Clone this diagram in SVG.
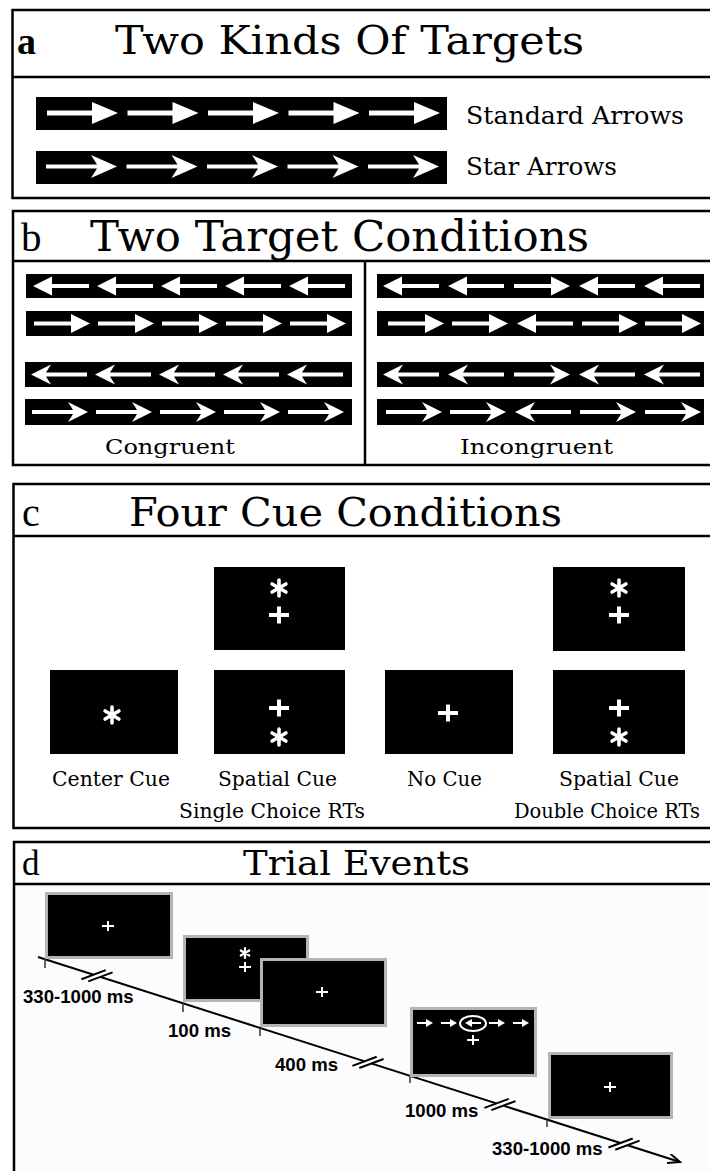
<svg xmlns="http://www.w3.org/2000/svg" xmlns:xlink="http://www.w3.org/1999/xlink" width="710" height="1171" viewBox="0 0 710 1171">
<style>
.panel{fill:none;stroke:#000;stroke-width:2.5}
.hdr{stroke:#000;stroke-width:2.5}
.bar{fill:#000}
.wa{fill:#fff}
.lt{font-family:"Liberation Serif",serif;fill:#000}
.tt{font-family:"DejaVu Serif",serif;fill:#000}
.lb{font-family:"DejaVu Serif",serif;fill:#000}
.ms{font-family:"Liberation Sans",Arial,sans-serif;font-weight:bold;font-size:18.6px;fill:#000}
.scr{fill:#000;stroke:#b4b4b4;stroke-width:3}
.cue{fill:#000}
.ast{stroke:#fff;stroke-linecap:round;fill:none}
.tl{stroke:#000;stroke-width:2;fill:none}
.tick{stroke:#333;stroke-width:1.5}
</style>
<defs>
<path id="aS" class="wa" d="M0,-2.5 H45 V-11 L71,0 L45,11 V2.5 H0 Z"/>
<path id="aT" class="wa" d="M0,-2 H51 L45,-11.5 L71,0 L45,11.5 L51,2 H0 Z"/>
<path id="bS" class="wa" d="M0,-2 H37 V-9.5 L56,0 L37,9.5 V2 H0 Z"/>
<path id="bT" class="wa" d="M0,-2 H41 L36,-10 L56,0 L36,10 L41,2 H0 Z"/>
<path id="sA" class="wa" d="M0,-1 H9 V-4 L16,0 L9,4 V1 H0 Z"/>
<path id="plusL" class="wa" d="M-10,-2 H10 V2 H-10Z M-2,-8.5 H2 V8.5 H-2Z"/>
<path id="plusS" class="wa" d="M-6,-1 H6 V1 H-6Z M-1,-5 H1 V5 H-1Z"/>
<g id="astL" class="ast" stroke-width="3.6"><path d="M0,-8 V8 M-6.9,-4 L6.9,4 M-6.9,4 L6.9,-4"/></g>
<g id="astS" class="ast" stroke-width="2.2"><path d="M0,-5 V5 M-4.3,-2.5 L4.3,2.5 M-4.3,2.5 L4.3,-2.5"/></g>
<marker id="ah" markerUnits="userSpaceOnUse" markerWidth="14" markerHeight="12" refX="12" refY="5" orient="auto"><path d="M0,0 L12,5 L0,10" fill="none" stroke="#000" stroke-width="2"/></marker>
<g id="brk"><rect x="-3.8" y="-2.2" width="7.6" height="4.4" fill="#fcfbfd"/><path d="M-13.8,8 L6.6,-8 M-6.6,8 L13.8,-8" stroke="#000" stroke-width="2" fill="none"/></g>
</defs>
<rect x="0" y="0" width="710" height="1171" fill="#fff"/>

<g id="panel-a">
<rect class="panel" x="12.5" y="10" width="710" height="188"/>
<line class="hdr" x1="12.5" y1="77" x2="710" y2="77"/>
<text class="lt" x="17" y="54" font-size="38" font-weight="bold">a</text>
<text class="tt" x="115" y="54" font-size="40" textLength="469" lengthAdjust="spacingAndGlyphs">Two Kinds Of Targets</text>
<g id="a-standard">
<rect class="bar" x="36" y="97" width="411" height="33"/>
<use xlink:href="#aS" href="#aS" x="47" y="113"/>
<use xlink:href="#aS" href="#aS" x="127.5" y="113"/>
<use xlink:href="#aS" href="#aS" x="208" y="113"/>
<use xlink:href="#aS" href="#aS" x="288.5" y="113"/>
<use xlink:href="#aS" href="#aS" x="369" y="113"/>
<text class="lb" x="466" y="124" font-size="25" textLength="218" lengthAdjust="spacingAndGlyphs">Standard Arrows</text>
</g>
<g id="a-star">
<rect class="bar" x="36" y="151" width="411" height="33"/>
<use xlink:href="#aT" href="#aT" x="46" y="166.5"/>
<use xlink:href="#aT" href="#aT" x="126.5" y="166.5"/>
<use xlink:href="#aT" href="#aT" x="207" y="166.5"/>
<use xlink:href="#aT" href="#aT" x="287.5" y="166.5"/>
<use xlink:href="#aT" href="#aT" x="368" y="166.5"/>
<text class="lb" x="466" y="175" font-size="25" textLength="151" lengthAdjust="spacingAndGlyphs">Star Arrows</text>
</g>
</g>

<g id="panel-b">
<rect class="panel" x="13" y="211" width="710" height="254"/>
<line class="hdr" x1="13" y1="261" x2="710" y2="261"/>
<line class="hdr" x1="365" y1="261" x2="365" y2="465"/>
<text class="lt" x="21" y="251" font-size="41">b</text>
<text class="tt" x="90" y="251" font-size="42" textLength="499" lengthAdjust="spacingAndGlyphs">Two Target Conditions</text>
<g id="congruent">
<rect class="bar" x="26" y="274" width="326" height="24"/>
<rect class="bar" x="26" y="311" width="326" height="25"/>
<rect class="bar" x="25" y="362" width="327" height="25"/>
<rect class="bar" x="25" y="399" width="327" height="26"/>
<use xlink:href="#bS" href="#bS" transform="translate(89,286) scale(-1,1)"/>
<use xlink:href="#bS" href="#bS" transform="translate(153,286) scale(-1,1)"/>
<use xlink:href="#bS" href="#bS" transform="translate(217,286) scale(-1,1)"/>
<use xlink:href="#bS" href="#bS" transform="translate(281,286) scale(-1,1)"/>
<use xlink:href="#bS" href="#bS" transform="translate(345,286) scale(-1,1)"/>
<use xlink:href="#bS" href="#bS" x="34" y="323.5"/>
<use xlink:href="#bS" href="#bS" x="98" y="323.5"/>
<use xlink:href="#bS" href="#bS" x="162" y="323.5"/>
<use xlink:href="#bS" href="#bS" x="226" y="323.5"/>
<use xlink:href="#bS" href="#bS" x="290" y="323.5"/>
<use xlink:href="#bT" href="#bT" transform="translate(87,374.5) scale(-1,1)"/>
<use xlink:href="#bT" href="#bT" transform="translate(151,374.5) scale(-1,1)"/>
<use xlink:href="#bT" href="#bT" transform="translate(215,374.5) scale(-1,1)"/>
<use xlink:href="#bT" href="#bT" transform="translate(279,374.5) scale(-1,1)"/>
<use xlink:href="#bT" href="#bT" transform="translate(343,374.5) scale(-1,1)"/>
<use xlink:href="#bT" href="#bT" x="32" y="412"/>
<use xlink:href="#bT" href="#bT" x="96" y="412"/>
<use xlink:href="#bT" href="#bT" x="160" y="412"/>
<use xlink:href="#bT" href="#bT" x="224" y="412"/>
<use xlink:href="#bT" href="#bT" x="288" y="412"/>
<text class="lb" x="105" y="454" font-size="21" textLength="130" lengthAdjust="spacingAndGlyphs">Congruent</text>
</g>
<g id="incongruent">
<rect class="bar" x="377" y="274" width="327" height="24"/>
<rect class="bar" x="377" y="311" width="327" height="25"/>
<rect class="bar" x="377" y="362" width="327" height="25"/>
<rect class="bar" x="377" y="399" width="327" height="26"/>
<use xlink:href="#bS" href="#bS" transform="translate(439,286) scale(-1,1)"/>
<use xlink:href="#bS" href="#bS" transform="translate(504,286) scale(-1,1)"/>
<use xlink:href="#bS" href="#bS" x="514" y="286"/>
<use xlink:href="#bS" href="#bS" transform="translate(635,286) scale(-1,1)"/>
<use xlink:href="#bS" href="#bS" transform="translate(700,286) scale(-1,1)"/>
<use xlink:href="#bS" href="#bS" x="388" y="323.5"/>
<use xlink:href="#bS" href="#bS" x="452" y="323.5"/>
<use xlink:href="#bS" href="#bS" transform="translate(573,323.5) scale(-1,1)"/>
<use xlink:href="#bS" href="#bS" x="582" y="323.5"/>
<use xlink:href="#bS" href="#bS" x="645" y="323.5"/>
<use xlink:href="#bT" href="#bT" transform="translate(439,374.5) scale(-1,1)"/>
<use xlink:href="#bT" href="#bT" transform="translate(504,374.5) scale(-1,1)"/>
<use xlink:href="#bT" href="#bT" x="514" y="374.5"/>
<use xlink:href="#bT" href="#bT" transform="translate(635,374.5) scale(-1,1)"/>
<use xlink:href="#bT" href="#bT" transform="translate(700,374.5) scale(-1,1)"/>
<use xlink:href="#bT" href="#bT" x="386" y="412"/>
<use xlink:href="#bT" href="#bT" x="450" y="412"/>
<use xlink:href="#bT" href="#bT" transform="translate(571,412) scale(-1,1)"/>
<use xlink:href="#bT" href="#bT" x="580" y="412"/>
<use xlink:href="#bT" href="#bT" x="645" y="412"/>
<text class="lb" x="460" y="454" font-size="21" textLength="153" lengthAdjust="spacingAndGlyphs">Incongruent</text>
</g>
</g>

<g id="panel-c">
<rect class="panel" x="13.5" y="484" width="710" height="344"/>
<line class="hdr" x1="13.5" y1="536" x2="710" y2="536"/>
<text class="lt" x="22" y="526" font-size="40">c</text>
<text class="tt" x="129" y="526" font-size="39" textLength="433" lengthAdjust="spacingAndGlyphs">Four Cue Conditions</text>
<g id="center-cue">
<rect class="cue" x="50" y="670" width="128" height="84"/>
<use xlink:href="#astL" href="#astL" x="112" y="715"/>
<text class="lb" x="52" y="786" font-size="21" textLength="118" lengthAdjust="spacingAndGlyphs">Center Cue</text>
</g>
<g id="spatial-cue-single">
<rect class="cue" x="214" y="567" width="131" height="83"/>
<use xlink:href="#astL" href="#astL" x="279" y="588"/>
<use xlink:href="#plusL" href="#plusL" x="279" y="615"/>
<rect class="cue" x="214" y="670" width="131" height="84"/>
<use xlink:href="#plusL" href="#plusL" x="279" y="708"/>
<use xlink:href="#astL" href="#astL" x="279" y="737"/>
<text class="lb" x="218" y="786" font-size="21" textLength="119" lengthAdjust="spacingAndGlyphs">Spatial Cue</text>
<text class="lb" x="179" y="818" font-size="21" textLength="186" lengthAdjust="spacingAndGlyphs">Single Choice RTs</text>
</g>
<g id="no-cue">
<rect class="cue" x="385" y="670" width="128" height="84"/>
<use xlink:href="#plusL" href="#plusL" x="448" y="713"/>
<text class="lb" x="407" y="786" font-size="21" textLength="75" lengthAdjust="spacingAndGlyphs">No Cue</text>
</g>
<g id="spatial-cue-double">
<rect class="cue" x="553" y="567" width="132" height="84"/>
<use xlink:href="#astL" href="#astL" x="619" y="588"/>
<use xlink:href="#plusL" href="#plusL" x="619" y="615"/>
<rect class="cue" x="553" y="670" width="132" height="84"/>
<use xlink:href="#plusL" href="#plusL" x="619" y="708"/>
<use xlink:href="#astL" href="#astL" x="619" y="737"/>
<text class="lb" x="559" y="786" font-size="21" textLength="120" lengthAdjust="spacingAndGlyphs">Spatial Cue</text>
<text class="lb" x="514" y="818" font-size="20" textLength="186" lengthAdjust="spacingAndGlyphs">Double Choice RTs</text>
</g>
</g>

<g id="panel-d">
<rect x="15" y="885" width="700" height="290" fill="#fcfbfd"/>
<rect class="panel" x="14" y="842" width="710" height="340"/>
<line class="hdr" x1="14" y1="884" x2="710" y2="884"/>
<text class="lt" x="22" y="875" font-size="35">d</text>
<text class="tt" x="243" y="875" font-size="33" textLength="227" lengthAdjust="spacingAndGlyphs">Trial Events</text>

<g id="connectors">
<line class="tl" x1="38" y1="957" x2="680" y2="1162" marker-end="url(#ah)"/>
<line class="tick" x1="45" y1="959" x2="45" y2="968"/>
<line class="tick" x1="183" y1="1003" x2="183" y2="1012"/>
<line class="tick" x1="260" y1="1028" x2="260" y2="1036"/>
<line class="tick" x1="410" y1="1076" x2="410" y2="1083"/>
<line class="tick" x1="547" y1="1120" x2="547" y2="1127"/>
<use xlink:href="#brk" href="#brk" transform="translate(97,975.8) rotate(17.7)"/>
<use xlink:href="#brk" href="#brk" transform="translate(368,1062.4) rotate(17.7)"/>
<use xlink:href="#brk" href="#brk" transform="translate(500,1104.5) rotate(17.7)"/>
<use xlink:href="#brk" href="#brk" transform="translate(624,1144.1) rotate(17.7)"/>
</g>

<g id="screen-fixation">
<rect class="scr" x="46.5" y="893.5" width="125" height="64"/>
<use xlink:href="#plusS" href="#plusS" x="108" y="926"/>
<text class="ms" x="23" y="1003">330-1000 ms</text>
</g>
<g id="screen-cue">
<rect class="scr" x="184.5" y="936.5" width="123" height="64"/>
<use xlink:href="#astS" href="#astS" x="245" y="953"/>
<use xlink:href="#plusS" href="#plusS" x="245" y="967"/>
<text class="ms" x="168" y="1037">100 ms</text>
</g>
<g id="screen-fixation-2">
<rect class="scr" x="261.5" y="959.5" width="124" height="66"/>
<use xlink:href="#plusS" href="#plusS" x="322" y="992"/>
<text class="ms" x="275" y="1071">400 ms</text>
</g>
<g id="screen-target">
<rect class="scr" x="411.5" y="1008.5" width="124" height="67"/>
<use xlink:href="#sA" href="#sA" x="417" y="1023"/>
<use xlink:href="#sA" href="#sA" x="441" y="1023"/>
<use xlink:href="#sA" href="#sA" transform="translate(481,1023) scale(-1,1)"/>
<use xlink:href="#sA" href="#sA" x="489" y="1023"/>
<use xlink:href="#sA" href="#sA" x="513" y="1023"/>
<ellipse cx="473" cy="1023.5" rx="13" ry="7.5" fill="none" stroke="#fff" stroke-width="2"/>
<use xlink:href="#plusS" href="#plusS" x="473" y="1040"/>
<text class="ms" x="405" y="1117">1000 ms</text>
</g>
<g id="screen-end">
<rect class="scr" x="549.5" y="1053.5" width="122" height="64"/>
<use xlink:href="#plusS" href="#plusS" x="610" y="1087"/>
<text class="ms" x="492" y="1155">330-1000 ms</text>
</g>
</g>
</svg>
